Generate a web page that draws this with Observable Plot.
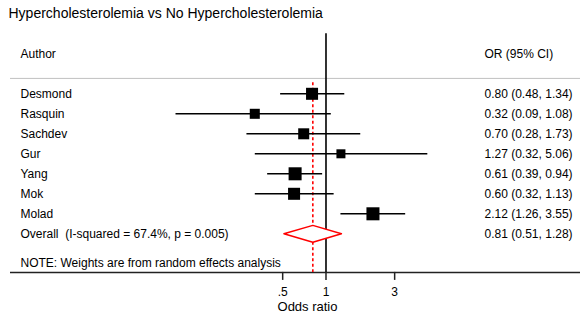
<!DOCTYPE html>
<html>
<head>
<meta charset="utf-8">
<script src="https://cdn.jsdelivr.net/npm/d3@7"></script>
<script src="https://cdn.jsdelivr.net/npm/@observablehq/plot@0.6"></script>
<style>
  html, body { margin: 0; padding: 0; background: #fff; }
  svg { display: block; font-family: "Liberation Sans", Arial, Helvetica, sans-serif !important; }
</style>
</head>
<body>
<div id="chart"></div>
<script>
// ---- Data ----
const title = "Hypercholesterolemia vs No Hypercholesterolemia";
const authors = ["Desmond", "Rasquin", "Sachdev", "Gur", "Yang", "Mok", "Molad"];
const oddsRatio = [0.80, 0.32, 0.70, 1.27, 0.61, 0.60, 2.12];
const ciLow = [0.48, 0.09, 0.28, 0.32, 0.39, 0.32, 1.26];
const ciHigh = [1.34, 1.08, 1.73, 5.06, 0.94, 1.13, 3.55];
const weights = [15.5, 10.8, 13.0, 8.7, 18.2, 15.5, 18.2]; // estimated % weights
const overallLabel = "Overall  (I-squared = 67.4%, p = 0.005)";
const overall = {or: 0.81, lo: 0.51, hi: 1.28};
const note = "NOTE: Weights are from random effects analysis";
const tickValues = [0.5, 1, 3];
const tickLabels = [".5", "1", "3"];
const xLabel = "Odds ratio";
const headerLeft = "Author";
const headerRight = "OR (95% CI)";

const fmt = d3.format(".2f");
const studies = authors.map((a, i) => ({
  author: a, or: oddsRatio[i], lo: ciLow[i], hi: ciHigh[i], w: weights[i], row: i,
  label: `${fmt(oddsRatio[i])} (${fmt(ciLow[i])}, ${fmt(ciHigh[i])})`
}));
const overallRow = authors.length;
const overallText = `${fmt(overall.or)} (${fmt(overall.lo)}, ${fmt(overall.hi)})`;
const diamond = [
  {x: overall.lo, y: overallRow},
  {x: overall.or, y: overallRow - 0.42},
  {x: overall.hi, y: overallRow},
  {x: overall.or, y: overallRow + 0.42},
  {x: overall.lo, y: overallRow}
];

// row layout (in row units)
const headerRow = -2;
const sepRow = -0.77;
const noteRow = overallRow + 1.45;
const axisRow = overallRow + 1.93;
const tickEnd = axisRow + 0.4;
const tickLabelRow = axisRow + 0.97;
const xLabelRow = axisRow + 1.72;

const fs = 12;
const textCol = 484;

const chart = Plot.plot({
  width: 580,
  height: 315,
  marginLeft: 10, marginRight: 0, marginTop: 0, marginBottom: 0,
  x: {type: "log", domain: [0.00642, 58.7], axis: null},
  y: {type: "linear", domain: [-4.665, 11.085], range: [0, 315], axis: null},
  r: {type: "sqrt", domain: [0, 18.2], range: [0, 7.35]},
  marks: [
    // title
    Plot.text([title], {frameAnchor: "top-left", dx: -2, dy: 8, fontSize: 14, fill: "black", lineAnchor: "top"}),
    // headers
    Plot.text([headerLeft], {y: headerRow, frameAnchor: "left", dx: 10, textAnchor: "start", fontSize: fs}),
    Plot.text([headerRight], {y: headerRow, frameAnchor: "left", dx: textCol - 10, textAnchor: "start", fontSize: fs}),
    // header separator
    Plot.ruleY([sepRow], {stroke: "#c0c0c0", strokeWidth: 1}),
    // axis line
    Plot.ruleY([axisRow], {stroke: "#222", strokeWidth: 1.5}),
    // null line
    Plot.ruleX([1], {y1: -3.0, y2: axisRow, stroke: "black", strokeWidth: 1.6}),
    // overall effect dashed line
    Plot.ruleX([overall.or], {y1: -0.55, y2: axisRow, stroke: "red", strokeWidth: 1.6, strokeDasharray: "3,2.5"}),
    // CI lines
    Plot.link(studies, {x1: "lo", x2: "hi", y1: "row", y2: "row", stroke: "black", strokeWidth: 1.6}),
    // weight squares
    Plot.dot(studies, {x: "or", y: "row", r: "w", symbol: "square", fill: "black", stroke: "none"}),
    // overall diamond
    Plot.line(diamond, {x: "x", y: "y", stroke: "red", fill: "white", strokeWidth: 1.5, curve: "linear-closed"}),
    // author labels
    Plot.text(studies, {y: "row", text: "author", frameAnchor: "left", dx: 10, textAnchor: "start", fontSize: fs}),
    Plot.text([overallLabel], {y: overallRow, frameAnchor: "left", dx: 10, textAnchor: "start", fontSize: fs}),
    // OR column
    Plot.text(studies, {y: "row", text: "label", frameAnchor: "left", dx: textCol - 10, textAnchor: "start", fontSize: fs}),
    Plot.text([overallText], {y: overallRow, frameAnchor: "left", dx: textCol - 10, textAnchor: "start", fontSize: fs}),
    // note
    Plot.text([note], {y: noteRow, frameAnchor: "left", dx: 10, textAnchor: "start", fontSize: fs}),
    // ticks
    Plot.ruleX(tickValues, {y1: axisRow, y2: tickEnd, stroke: "#222", strokeWidth: 1.5}),
    Plot.text(tickValues, {x: d => d, y: tickLabelRow, text: (d, i) => tickLabels[i], fontSize: fs}),
    Plot.text([xLabel], {y: xLabelRow, frameAnchor: "middle", dx: 12, fontSize: 13})
  ]
});
document.getElementById("chart").appendChild(chart);
</script>
</body>
</html>
